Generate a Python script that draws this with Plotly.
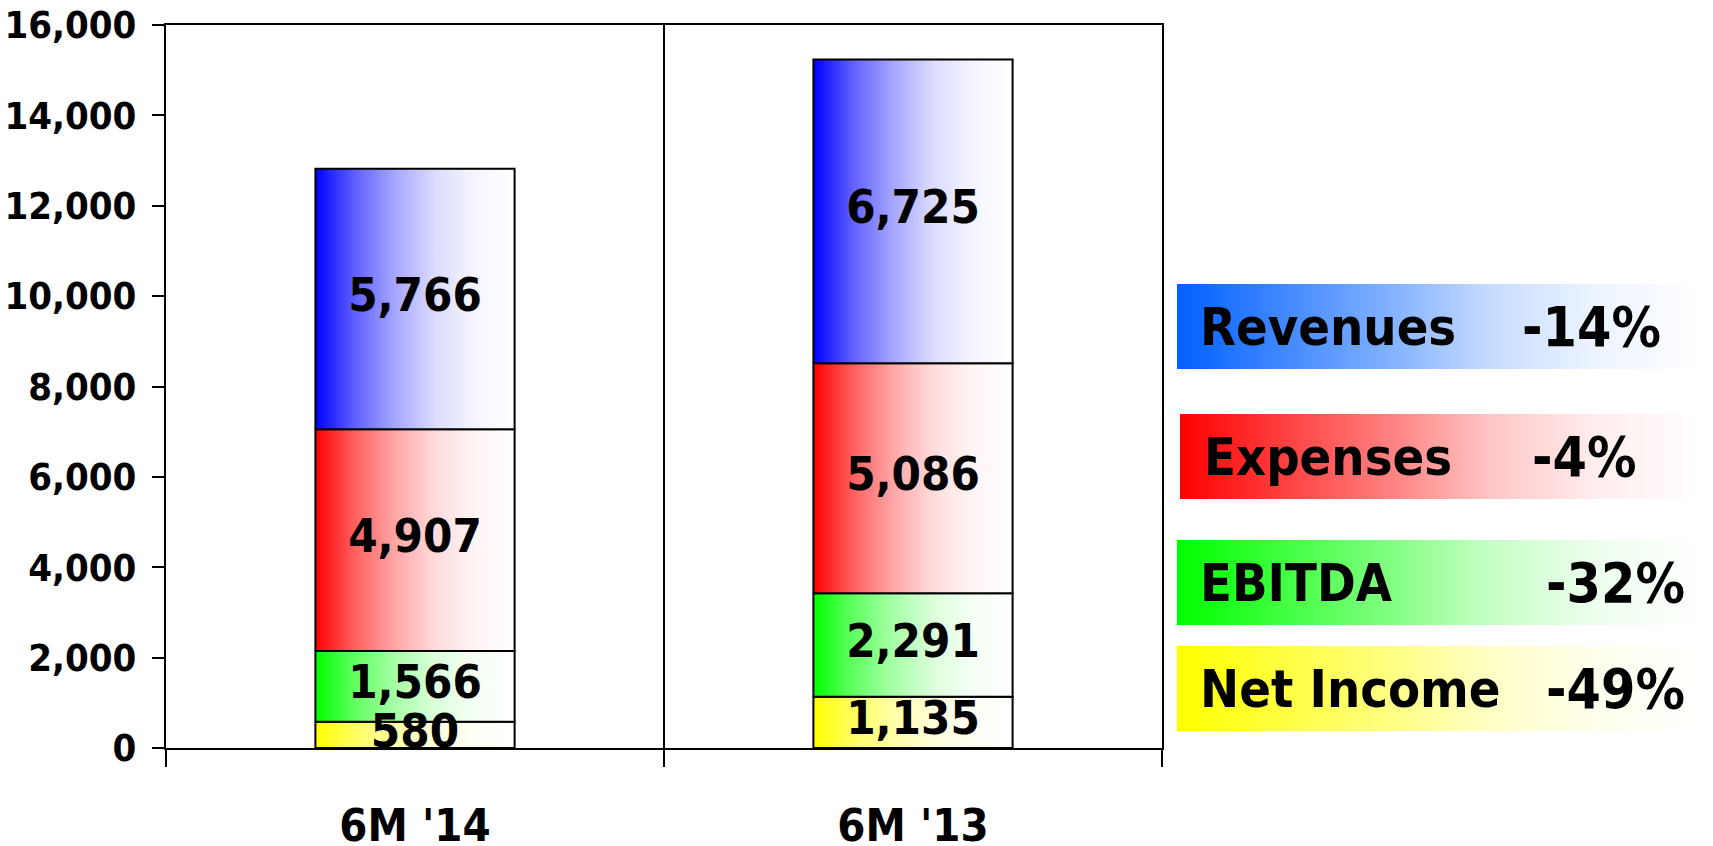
import plotly.graph_objects as go

# ---------------- data ----------------
categories = ["6M '14", "6M '13"]
series_names = ["Net Income", "EBITDA", "Expenses", "Revenues"]
net_income = [580, 1135]
ebitda = [1566, 2291]
expenses = [4907, 5086]
revenues = [5766, 6725]
y_ticks = [0, 2000, 4000, 6000, 8000, 10000, 12000, 14000, 16000]

series_values = [net_income, ebitda, expenses, revenues]

# ---------------- styles ----------------
FONT = "DejaVu Sans Condensed"
bar_colors = [(255, 255, 0), (0, 255, 0), (255, 0, 0), (0, 0, 255)]
legend_colors = [(255, 255, 0), (0, 255, 0), (255, 0, 0), (0, 96, 255)]
bar_width = 0.4

# layout positions for the side legend (pixel-like units on helper axes)
W, H = 1713, 846
ML, MR, MT, MB = 166, 0, 25, 98
plot_right_px = 1162
legend_box_x = [(1177, 1702), (1177, 1702), (1180, 1702), (1177, 1702)]
legend_box_y = [(646, 731), (540, 625), (414, 499), (284, 369)]
legend_name_x = [1198, 1198, 1202, 1198]
legend_pct_x = [1544, 1544, 1530, 1520]


def fade_scale(rgb, stops):
    out = []
    for t, m in stops:
        c = [round(v + (255 - v) * m) for v in rgb]
        out.append([t, f"rgb({c[0]},{c[1]},{c[2]})"])
    return out


bar_stops = [(0.0, 0.0), (0.2, 0.38), (0.4, 0.65), (0.6, 0.86), (0.8, 0.96), (1.0, 1.0)]
legend_stops = [(0.0, 0.0), (0.2, 0.25), (0.4, 0.5), (0.6, 0.78), (0.8, 0.93), (1.0, 1.0)]

fig = go.Figure()

# stacked bars with horizontal gradient fills
for s_idx, (name, vals) in enumerate(zip(series_names, series_values)):
    for c_idx, cat in enumerate(categories):
        base = sum(series_values[k][c_idx] for k in range(s_idx))
        top = base + vals[c_idx]
        x0, x1 = c_idx - bar_width / 2, c_idx + bar_width / 2
        fig.add_trace(go.Scatter(
            x=[x0, x1, x1, x0, x0],
            y=[base, base, top, top, base],
            mode="lines",
            fill="toself",
            fillgradient=dict(type="horizontal", colorscale=fade_scale(bar_colors[s_idx], bar_stops)),
            line=dict(color="black", width=2),
            name=f"{name} {cat}",
            hoverinfo="skip",
            showlegend=False,
        ))

# value labels centred in each segment
for s_idx, vals in enumerate(series_values):
    mids = []
    for c_idx in range(len(categories)):
        base = sum(series_values[k][c_idx] for k in range(s_idx))
        mids.append(base + vals[c_idx] / 2)
    fig.add_trace(go.Scatter(
        x=list(range(len(categories))),
        y=mids,
        mode="text",
        text=[f"{v:,}" for v in vals],
        textposition="middle center",
        textfont=dict(family=FONT, size=47, color="black", weight="bold"),
        cliponaxis=False,
        hoverinfo="skip",
        showlegend=False,
    ))

# side legend boxes with gradient
annotations = []
for i, name in enumerate(series_names):
    (bx0, bx1), (by0, by1) = legend_box_x[i], legend_box_y[i]
    fig.add_trace(go.Scatter(
        x=[bx0, bx1, bx1, bx0, bx0],
        y=[by0, by0, by1, by1, by0],
        xaxis="x2", yaxis="y2",
        mode="lines",
        fill="toself",
        fillgradient=dict(type="horizontal", colorscale=fade_scale(legend_colors[i], legend_stops)),
        line=dict(width=0),
        hoverinfo="skip",
        showlegend=False,
    ))
    vals = series_values[i]
    pct = round((vals[0] / vals[1] - 1) * 100)
    yc = (by0 + by1) / 2
    annotations.append(dict(
        x=legend_name_x[i], y=yc, xref="x2", yref="y2", text=name,
        showarrow=False, xanchor="left", yanchor="middle",
        font=dict(family=FONT, size=52, color="black", weight="bold"),
    ))
    annotations.append(dict(
        x=legend_pct_x[i], y=yc, xref="x2", yref="y2", text=f"{pct}%",
        showarrow=False, xanchor="left", yanchor="middle",
        font=dict(family=FONT, size=55, color="black", weight="bold"),
    ))

x_main_end = (plot_right_px - ML) / (W - ML - MR)

fig.update_layout(
    width=W, height=H,
    margin=dict(l=ML, r=MR, t=MT, b=MB, pad=0, autoexpand=False),
    plot_bgcolor="white", paper_bgcolor="white",
    showlegend=False,
    annotations=annotations,
    xaxis=dict(
        domain=[0, x_main_end], range=[-0.5, 1.5],
        tickmode="array", tickvals=list(range(len(categories))), ticktext=categories,
        ticks="", showgrid=False, zeroline=False, automargin=False,
        showline=True, linecolor="black", linewidth=2, mirror=True,
        tickfont=dict(family=FONT, size=45, color="black", weight="bold"),
        ticklabelstandoff=37,
        minor=dict(tickmode="array", tickvals=[-0.5, 0.5, 1.5], ticks="outside", ticklen=17,
                   tickcolor="black", tickwidth=2, showgrid=True,
                   gridcolor="black", gridwidth=1.5),
    ),
    yaxis=dict(
        range=[0, 16000], tickmode="array", tickvals=y_ticks, tickformat=",",
        ticks="outside", ticklen=12, tickwidth=2, tickcolor="black",
        showline=True, linecolor="black", linewidth=2, mirror=True,
        showgrid=False, zeroline=False, automargin=False,
        tickfont=dict(family=FONT, size=38, color="black", weight="bold"),
        ticklabelstandoff=8,
    ),
    xaxis2=dict(domain=[x_main_end, 1], range=[plot_right_px, W], visible=False,
                anchor="y2", fixedrange=True),
    yaxis2=dict(domain=[0, 1], range=[H - MB, MT], visible=False,
                anchor="x2", fixedrange=True),
)

fig.write_html(
    "out.html",
    config={"displayModeBar": False},
    post_script="document.body.style.margin='0';document.body.style.overflow='hidden';",
)
